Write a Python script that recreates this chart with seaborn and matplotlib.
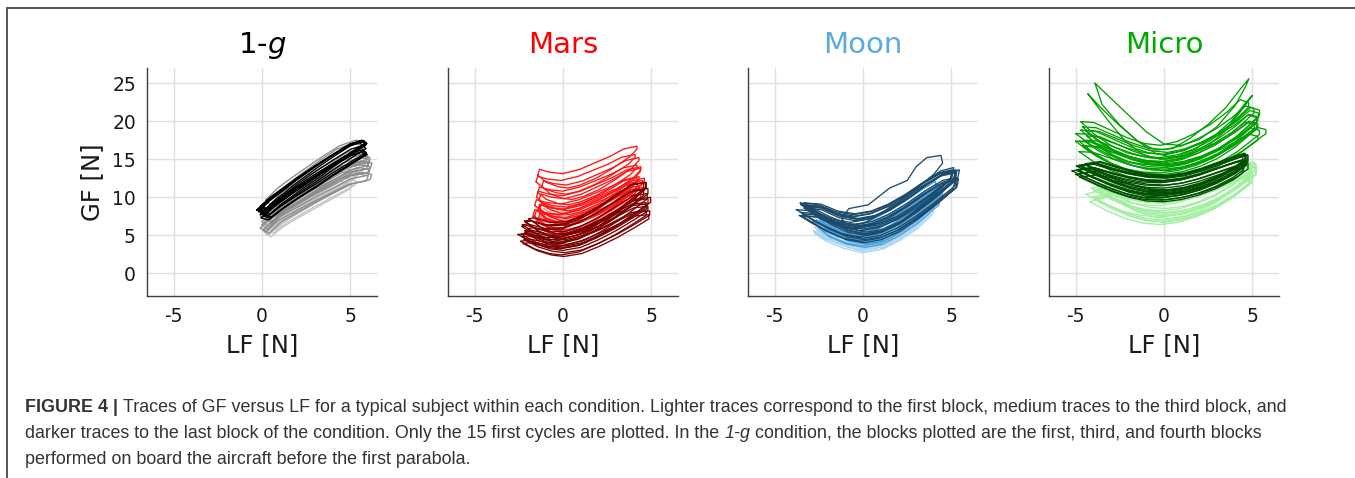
import numpy as np
import pandas as pd
import matplotlib
matplotlib.use("Agg")
import matplotlib.pyplot as plt
import seaborn as sns
from matplotlib.lines import Line2D

# ---------------- data ----------------
CONDITIONS = ["1-g", "Mars", "Moon", "Micro"]
BLOCKS = ["first", "third", "last"]
X_TICKS = [-5, 0, 5]
Y_TICKS = [0, 5, 10, 15, 20, 25]

# --- 1-g ---
ONEG_LIGHT_LF = [0.2, 1.0, 2.0, 3.0, 4.0, 4.8, 5.1, 5.0, 4.2, 3.2, 2.2, 1.2, 0.5, 0.2]
ONEG_LIGHT_GF = [6.0, 7.6, 9.0, 10.3, 11.6, 12.6, 12.4, 11.9, 10.9, 9.6, 8.3, 6.9, 5.6, 6.0]
ONEG_LIGHT_DX = [0.0, 0.2, -0.1, 0.1, 0.3, 0.0, 0.15, -0.05, 0.2, 0.1, 0.0, 0.25]
ONEG_LIGHT_DY = [0.0, 0.5, -0.5, 1.0, 0.2, 1.5, -0.3, 0.8, 1.8, 0.3, -0.8, 1.2]
ONEG_LIGHT_SX = [1.0, 1.0, 0.95, 1.05, 1.0, 0.98, 1.02, 1.0, 1.05, 0.95, 1.0, 1.0]
ONEG_LIGHT_SY = [1.0, 1.05, 1.0, 0.95, 1.1, 1.0, 1.0, 1.05, 1.0, 0.95, 1.0, 1.05]

ONEG_MED_LF = [0.0, 0.8, 1.6, 2.5, 3.5, 4.5, 5.5, 6.1, 6.0, 5.0, 4.0, 3.0, 2.0, 1.0, 0.3, 0.0]
ONEG_MED_GF = [6.8, 8.4, 9.6, 10.9, 12.3, 13.6, 14.3, 14.0, 13.3, 12.8, 11.6, 10.4, 9.1, 7.8, 6.2, 6.8]
ONEG_MED_DX = [0.0, 0.2, -0.1, 0.3, 0.1, -0.2, 0.0, 0.2, -0.1, 0.1, 0.3, 0.0]
ONEG_MED_DY = [0.0, 1.0, -0.8, 0.5, 2.0, 1.5, -0.4, 2.8, 0.8, -1.0, 0.3, 1.2]
ONEG_MED_SX = [1.0, 0.95, 1.0, 0.97, 0.92, 1.0, 1.0, 0.93, 1.0, 1.0, 0.95, 1.0]
ONEG_MED_SY = [1.0, 1.05, 0.95, 1.0, 1.1, 1.0, 1.0, 1.05, 0.95, 1.0, 1.08, 1.0]

ONEG_DARK_LF = [-0.1, 0.5, 1.2, 2.0, 3.0, 4.0, 5.0, 5.7, 5.9, 5.2, 4.0, 3.0, 2.0, 1.0, 0.3, -0.1]
ONEG_DARK_GF = [8.3, 9.6, 10.8, 12.2, 13.8, 15.3, 16.7, 17.2, 16.8, 15.8, 14.0, 12.4, 10.9, 9.3, 8.0, 8.3]
ONEG_DARK_DX = [-0.2, 0.0, 0.1, -0.1, 0.2, 0.0, -0.15, 0.1, 0.25, -0.05, 0.05, 0.15]
ONEG_DARK_DY = [0.0, -0.5, 0.3, -0.2, -0.8, 0.5, 0.1, -0.4, -0.6, 0.2, -1.0, -0.2]
ONEG_DARK_SX = [1.0, 1.0, 0.97, 1.02, 0.95, 1.0, 1.03, 0.98, 0.95, 1.0, 1.0, 0.97]
ONEG_DARK_SY = [1.0, 0.95, 1.0, 1.05, 0.95, 0.97, 1.02, 1.0, 0.93, 1.0, 0.98, 1.03]

# --- Mars ---
MARS_LIGHT_LF = [-1.2, -0.5, 0.2, 1.0, 2.0, 3.0, 3.8, 3.8, 3.0, 2.0, 1.0, 0.0, -0.8, -1.2]
MARS_LIGHT_GF = [6.5, 5.6, 5.3, 5.6, 6.6, 8.0, 9.5, 9.9, 9.0, 7.8, 6.9, 6.5, 6.8, 6.5]
MARS_LIGHT_DX = [0.0, 0.1, -0.1, 0.2, 0.0, 0.1]
MARS_LIGHT_DY = [0.0, 0.5, 1.0, 1.5, 0.3, 2.0]
MARS_LIGHT_SX = [1.0, 1.0, 1.0, 1.0, 1.0, 1.0]
MARS_LIGHT_SY = [1.0, 1.0, 1.05, 0.95, 1.0, 1.0]

MARS_MED_LF = [-1.5, -1.0, -0.3, 0.3, 1.0, 2.0, 3.0, 4.0, 4.4, 4.4, 3.6, 2.8, 2.0, 1.0, 0.0, -0.8, -1.4, -1.5]
MARS_MED_GF = [7.0, 6.0, 5.4, 5.2, 5.6, 6.6, 8.0, 9.6, 10.6, 11.0, 10.6, 9.6, 8.8, 7.8, 7.2, 7.4, 7.8, 7.0]
MARS_MED_DX = [0.0, 0.1, -0.1, 0.0, 0.2, -0.1, 0.1, 0.0, -0.2, 0.1, 0.0, 0.2, -0.1, 0.0]
MARS_MED_DY = [-0.5, 0.0, 0.5, 1.0, 1.5, 2.0, 2.5, 3.0, 0.3, 1.2, 3.8, 4.5, 5.2, 6.0]
MARS_MED_SX = [1.0, 1.0, 1.0, 0.95, 1.0, 1.0, 0.97, 1.0, 1.0, 1.0, 0.95, 0.93, 0.95, 0.95]
MARS_MED_SY = [1.0, 1.05, 1.0, 1.1, 1.0, 0.95, 1.05, 1.0, 1.1, 1.0, 0.9, 0.95, 0.9, 0.95]

MARS_DARK_LF = [-2.3, -1.5, -0.7, 0.0, 1.0, 2.0, 3.0, 4.0, 4.8, 4.8, 4.0, 3.0, 2.0, 1.0, 0.0, -1.0, -2.0, -2.3]
MARS_DARK_GF = [4.8, 3.8, 3.2, 3.0, 3.4, 4.4, 5.6, 7.0, 8.2, 8.8, 8.6, 7.4, 6.2, 5.2, 4.5, 4.4, 4.9, 4.8]
MARS_DARK_DX = [0.0, 0.1, -0.1, 0.2, 0.0, -0.2, 0.1, 0.0, 0.15, -0.1, 0.05, 0.2, -0.05, 0.1]
MARS_DARK_DY = [0.0, 0.4, -0.6, 0.8, 1.2, 0.2, -0.3, 1.6, 0.6, 1.0, -0.8, 2.0, 0.3, 1.4]
MARS_DARK_SX = [1.0, 0.98, 1.0, 0.95, 1.0, 1.02, 1.0, 0.95, 1.0, 0.97, 1.0, 0.93, 1.0, 0.96]
MARS_DARK_SY = [1.0, 1.1, 1.0, 1.15, 1.2, 1.05, 0.95, 1.25, 1.1, 1.2, 0.95, 1.2, 1.0, 1.3]

# --- Moon ---
MOON_LIGHT_LF = [-2.6, -2.0, -1.0, 0.0, 1.0, 2.0, 3.0, 3.8, 3.8, 3.0, 2.0, 1.0, 0.0, -1.0, -2.0, -2.6]
MOON_LIGHT_GF = [5.6, 4.6, 3.6, 3.0, 3.4, 4.6, 6.2, 8.0, 8.8, 7.8, 6.2, 5.0, 4.2, 4.2, 4.8, 5.6]
MOON_LIGHT_DX = [0.0, 0.1, -0.1, 0.2, 0.0, 0.1, -0.2, 0.0, 0.15, 0.05]
MOON_LIGHT_DY = [0.0, 0.3, -0.3, 0.6, 0.2, 0.8, 0.1, 0.4, -0.2, 0.5]
MOON_LIGHT_SX = [1.0, 1.0, 1.02, 0.98, 1.05, 1.0, 1.0, 0.97, 1.0, 1.03]
MOON_LIGHT_SY = [1.0, 1.05, 1.0, 1.0, 1.1, 1.0, 0.95, 1.05, 1.0, 1.0]

MOON_MED_LF = [-2.5, -2.0, -1.0, 0.0, 1.0, 2.0, 3.0, 4.2, 4.2, 3.5, 2.5, 1.5, 0.5, -0.5, -1.5, -2.5]
MOON_MED_GF = [6.0, 5.0, 4.0, 3.6, 4.0, 5.2, 6.8, 9.2, 10.6, 9.6, 8.0, 6.6, 5.4, 4.8, 5.0, 6.0]
MOON_MED_DX = [0.0, 0.1, -0.2, 0.2, 0.0, 0.1, -0.1, 0.3, 0.0, 0.1]
MOON_MED_DY = [0.0, 0.4, 0.8, 0.2, 1.2, 0.6, 1.5, 0.3, 1.0, -0.2]
MOON_MED_SX = [1.0, 1.0, 1.05, 1.0, 1.0, 1.02, 1.0, 1.0, 1.05, 1.0]
MOON_MED_SY = [1.0, 1.05, 1.0, 1.1, 1.0, 1.05, 1.0, 1.1, 1.0, 1.0]

MOON_DARK_LF = [-3.5, -2.8, -2.0, -1.0, 0.0, 1.0, 2.0, 3.0, 4.0, 5.2, 5.3, 4.5, 3.5, 2.5, 1.5, 0.5, -0.5, -1.5, -2.5, -3.5]
MOON_DARK_GF = [8.0, 7.0, 6.0, 5.0, 4.6, 5.0, 6.0, 7.5, 9.2, 11.5, 12.6, 12.2, 10.8, 9.2, 7.8, 6.8, 6.4, 6.8, 7.8, 8.0]
MOON_DARK_DX = [0.0, 0.1, -0.1, 0.2, 0.0, -0.2, 0.1, 0.0, 0.15, -0.1, 0.05, 0.2, -0.05]
MOON_DARK_DY = [0.0, 0.4, -0.4, 0.8, 1.2, 0.2, -0.2, 1.6, 0.6, 1.0, -0.6, 0.5, 1.4]
MOON_DARK_SX = [1.0, 0.98, 1.0, 0.95, 1.0, 1.02, 1.0, 0.95, 1.0, 0.97, 1.0, 0.93, 1.0]
MOON_DARK_SY = [1.0, 1.05, 1.0, 1.0, 0.95, 1.05, 1.0, 0.9, 1.05, 1.0, 1.05, 1.1, 0.95]
MOON_OUTLIER_LF = [-1.2, -0.8, 0.3, 1.5, 2.5, 3.0, 3.6, 4.4, 4.5, 4.0, 3.2, 2.0, 1.0, 0.0, -1.0, -1.2]
MOON_OUTLIER_GF = [7.2, 8.5, 9.0, 11.2, 12.2, 14.0, 15.2, 15.5, 14.5, 13.0, 11.5, 9.5, 7.8, 6.5, 6.4, 7.2]

# --- Micro ---
MICRO_LIGHT_LF = [-4.0, -3.0, -2.0, -1.0, 0.0, 1.0, 2.0, 3.0, 4.0, 5.0, 5.0, 4.0, 3.0, 2.0, 1.0, 0.0, -1.0, -2.0, -3.0, -4.0]
MICRO_LIGHT_GF = [10.0, 8.8, 7.8, 7.2, 7.0, 7.3, 8.0, 9.0, 10.4, 12.2, 13.4, 12.4, 11.4, 10.6, 9.9, 9.5, 9.6, 10.0, 10.6, 10.0]
MICRO_LIGHT_DX = [0.0, 0.2, -0.2, 0.1, 0.3, -0.1, 0.0, 0.2, -0.3, 0.1, 0.0, 0.2]
MICRO_LIGHT_DY = [0.0, 0.5, -0.6, 1.0, 0.2, 1.2, -0.3, 0.7, 0.4, 1.5, -0.2, 0.9]
MICRO_LIGHT_SX = [1.0, 0.95, 1.0, 1.02, 0.9, 1.0, 0.97, 1.0, 1.03, 0.95, 1.0, 0.98]
MICRO_LIGHT_SY = [1.0, 1.05, 1.0, 0.95, 1.1, 1.0, 1.0, 1.05, 1.0, 0.95, 1.0, 1.05]

MICRO_MED_LF = [-4.8, -4.0, -3.0, -2.0, -1.0, 0.0, 1.0, 2.0, 3.0, 4.0, 5.0, 5.3, 5.3, 4.8, 4.0, 3.0, 2.0, 1.0, 0.0, -1.0, -2.0, -3.0, -4.0, -4.8]
MICRO_MED_GF = [16.5, 15.2, 14.0, 13.2, 12.8, 12.7, 13.0, 13.6, 14.5, 15.8, 17.5, 18.0, 18.5, 18.8, 17.5, 16.2, 15.2, 14.4, 14.0, 14.2, 14.8, 15.6, 16.4, 16.5]
MICRO_MED_DX = [0.0, 0.2, -0.2, 0.1, 0.0, -0.1, 0.2, 0.0, 0.1, -0.2, 0.3, 0.2]
MICRO_MED_DY = [-0.5, 0.0, 0.5, 1.0, 0.3, 1.5, 0.8, 2.0, 1.2, 2.5, 0.1, 1.7]
MICRO_MED_SX = [1.0, 0.98, 1.0, 0.97, 1.0, 1.02, 0.95, 0.96, 1.0, 0.94, 1.03, 0.97]
MICRO_MED_SY = [1.0, 1.05, 1.1, 1.0, 1.15, 1.1, 1.2, 1.2, 1.3, 1.25, 1.05, 1.15]
MICRO_OUT1_LF = [-3.9, -3.0, -2.0, -1.0, 0.0, 1.0, 2.0, 3.0, 4.0, 4.6, 4.8, 4.3, 3.5, 2.5, 1.5, 0.5, -0.5, -1.5, -2.5, -3.5, -3.9]
MICRO_OUT1_GF = [25.0, 23.0, 20.8, 18.6, 17.0, 16.8, 17.6, 19.3, 22.0, 24.5, 25.6, 24.2, 21.8, 19.6, 17.8, 16.4, 16.2, 17.4, 19.5, 22.2, 25.0]
MICRO_OUT2_LF = [-4.3, -3.5, -2.5, -1.5, -0.5, 0.5, 1.5, 2.5, 3.5, 4.5, 5.0, 4.6, 3.8, 2.8, 1.8, 0.8, -0.2, -1.2, -2.2, -3.2, -4.3]
MICRO_OUT2_GF = [23.6, 21.6, 19.4, 17.4, 15.8, 15.2, 15.6, 16.8, 18.8, 21.8, 23.4, 22.4, 20.0, 18.0, 16.4, 15.4, 15.0, 15.6, 17.4, 20.2, 23.6]

MICRO_DARK_LF = [-4.9, -4.0, -3.0, -2.0, -1.0, 0.0, 1.0, 2.0, 3.0, 4.0, 4.6, 4.6, 4.0, 3.0, 2.0, 1.0, 0.0, -1.0, -2.0, -3.0, -4.0, -4.9]
MICRO_DARK_GF = [13.6, 12.6, 11.6, 10.8, 10.3, 10.2, 10.5, 11.1, 12.0, 13.2, 14.2, 15.0, 14.6, 13.8, 13.0, 12.4, 12.1, 12.2, 12.6, 13.2, 13.9, 13.6]
MICRO_DARK_DX = [0.0, 0.1, -0.1, 0.2, 0.0, -0.2, 0.1, 0.0, 0.15, -0.1, 0.05, 0.2, -0.05, 0.1]
MICRO_DARK_DY = [0.0, 0.4, -0.6, 0.8, 0.2, -0.3, 0.6, -0.8, 0.3, 0.5, -0.2, 0.7, 0.1, -0.5]
MICRO_DARK_SX = [1.0, 0.98, 1.0, 0.95, 1.0, 1.02, 1.0, 0.97, 1.0, 0.99, 1.0, 0.96, 1.0, 1.01]
MICRO_DARK_SY = [1.0, 1.05, 1.0, 1.0, 0.95, 1.05, 1.0, 0.95, 1.05, 1.0, 1.05, 1.0, 0.95, 1.0]

BLOCK_COLORS = {
    "1-g": ["#c2c2c2", "#8c8c8c", "#000000"],
    "Mars": ["#ff9a9a", "#ff1414", "#7a0000"],
    "Moon": ["#a9d5f2", "#4aa0dc", "#1b4a6b"],
    "Micro": ["#9ff09f", "#00a000", "#005000"],
}
TITLE_COLORS = ["#000000", "#ff0000", "#5aaade", "#00aa00"]
TITLES = [r"1-$g$", "Mars", "Moon", "Micro"]

BASES = {
    "1-g": [(ONEG_LIGHT_LF, ONEG_LIGHT_GF, ONEG_LIGHT_DX, ONEG_LIGHT_DY, ONEG_LIGHT_SX, ONEG_LIGHT_SY),
            (ONEG_MED_LF, ONEG_MED_GF, ONEG_MED_DX, ONEG_MED_DY, ONEG_MED_SX, ONEG_MED_SY),
            (ONEG_DARK_LF, ONEG_DARK_GF, ONEG_DARK_DX, ONEG_DARK_DY, ONEG_DARK_SX, ONEG_DARK_SY)],
    "Mars": [(MARS_LIGHT_LF, MARS_LIGHT_GF, MARS_LIGHT_DX, MARS_LIGHT_DY, MARS_LIGHT_SX, MARS_LIGHT_SY),
             (MARS_MED_LF, MARS_MED_GF, MARS_MED_DX, MARS_MED_DY, MARS_MED_SX, MARS_MED_SY),
             (MARS_DARK_LF, MARS_DARK_GF, MARS_DARK_DX, MARS_DARK_DY, MARS_DARK_SX, MARS_DARK_SY)],
    "Moon": [(MOON_LIGHT_LF, MOON_LIGHT_GF, MOON_LIGHT_DX, MOON_LIGHT_DY, MOON_LIGHT_SX, MOON_LIGHT_SY),
             (MOON_MED_LF, MOON_MED_GF, MOON_MED_DX, MOON_MED_DY, MOON_MED_SX, MOON_MED_SY),
             (MOON_DARK_LF, MOON_DARK_GF, MOON_DARK_DX, MOON_DARK_DY, MOON_DARK_SX, MOON_DARK_SY)],
    "Micro": [(MICRO_LIGHT_LF, MICRO_LIGHT_GF, MICRO_LIGHT_DX, MICRO_LIGHT_DY, MICRO_LIGHT_SX, MICRO_LIGHT_SY),
              (MICRO_MED_LF, MICRO_MED_GF, MICRO_MED_DX, MICRO_MED_DY, MICRO_MED_SX, MICRO_MED_SY),
              (MICRO_DARK_LF, MICRO_DARK_GF, MICRO_DARK_DX, MICRO_DARK_DY, MICRO_DARK_SX, MICRO_DARK_SY)],
}
EXTRA_TRACES = [
    ("Moon", "last", MOON_OUTLIER_LF, MOON_OUTLIER_GF),
    ("Micro", "third", MICRO_OUT1_LF, MICRO_OUT1_GF),
    ("Micro", "third", MICRO_OUT2_LF, MICRO_OUT2_GF),
]

# ------------- build long table -------------
rows = []
tid = 0
for cond in CONDITIONS:
    for block, (lf, gf, dxs, dys, sxs, sys_) in zip(BLOCKS, BASES[cond]):
        lf = np.asarray(lf, float)
        gf = np.asarray(gf, float)
        gmin = gf.min()
        for dx, dy, sx, sy in zip(dxs, dys, sxs, sys_):
            tid += 1
            for i, (a, b) in enumerate(zip(lf * sx + dx, gmin + (gf - gmin) * sy + dy)):
                rows.append((cond, block, tid, i, a, b))
for cond, block, lf, gf in EXTRA_TRACES:
    tid += 1
    for i, (a, b) in enumerate(zip(lf, gf)):
        rows.append((cond, block, tid, i, a, b))
df = pd.DataFrame(rows, columns=["cond", "block", "trace", "i", "LF", "GF"])
df["bi"] = df["block"].map({b: j for j, b in enumerate(BLOCKS)})
df = df.sort_values(["cond", "bi", "trace", "i"], kind="stable")

# ------------- figure -------------
sns.set_style("white")
plt.rcParams["font.family"] = ["DejaVu Sans"]
W, H = 1355, 478
fig = plt.figure(figsize=(W / 100, H / 100), dpi=100)

lefts = [147, 448, 748, 1049]
ax_w, ax_top, ax_bot = 230, 68, 296
for k, cond in enumerate(CONDITIONS):
    ax = fig.add_axes([lefts[k] / W, 1 - ax_bot / H, ax_w / W, (ax_bot - ax_top) / H])
    sub = df[df.cond == cond]
    sns.lineplot(data=sub, x="LF", y="GF", hue="block", hue_order=BLOCKS,
                 palette=BLOCK_COLORS[cond], units="trace", estimator=None,
                 sort=False, lw=0.95, legend=False, ax=ax)
    ax.set_xlim(-6.5, 6.5)
    ax.set_ylim(-3, 27)
    ax.set_xticks(X_TICKS)
    ax.set_yticks(Y_TICKS)
    ax.set_xticklabels([str(v) for v in X_TICKS])
    ax.grid(True, color="#e0e0e0", lw=1.0)
    ax.set_axisbelow(True)
    for s in ["top", "right"]:
        ax.spines[s].set_visible(False)
    for s in ["left", "bottom"]:
        ax.spines[s].set_color("#404040")
        ax.spines[s].set_linewidth(1.0)
    ax.tick_params(direction="in", length=3, width=0.8, color="#404040",
                   labelsize=13.5, labelcolor="#1a1a1a", pad=8)
    ax.set_xlabel("LF [N]", fontsize=17.5, color="#1a1a1a", labelpad=5)
    if k == 0:
        ax.set_ylabel("GF [N]", fontsize=17.5, color="#1a1a1a", labelpad=6)
        ax.set_yticklabels([str(v) for v in Y_TICKS])
    else:
        ax.set_ylabel("")
        ax.set_yticklabels([])
    ax.set_title(TITLES[k], color=TITLE_COLORS[k], fontsize=21, pad=11)

# border lines of the figure box
fig.add_artist(Line2D([7 / W, 1.0], [1 - 8 / H, 1 - 8 / H], color="#555555", lw=1.4))
fig.add_artist(Line2D([7 / W, 7 / W], [0.0, 1 - 8 / H], color="#555555", lw=1.4))

# caption
CAPTION_LINES = [
    [("FIGURE 4 | ", "bold"), ("Traces of GF versus LF for a typical subject within each condition. Lighter traces correspond to the first block, medium traces to the third block, and", "normal")],
    [("darker traces to the last block of the condition. Only the 15 first cycles are plotted. In the ", "normal"), ("1-g", "italic"), (" condition, the blocks plotted are the first, third, and fourth blocks", "normal")],
    [("performed on board the aircraft before the first parabola.", "normal")],
]
cap_family = ["Liberation Sans Narrow", "Liberation Sans", "DejaVu Sans"]
renderer = fig.canvas.get_renderer()


def draw_caption(size):
    arts = []
    widths = []
    for li, (segs, yc) in enumerate(zip(CAPTION_LINES, [408, 434, 460])):
        x = 25 / W
        for txt, sty in segs:
            kw = dict(fontsize=size, color="#333333", va="center", ha="left", family=cap_family)
            if sty == "bold":
                kw["fontweight"] = "bold"
            if sty == "italic":
                kw["fontstyle"] = "italic"
            t = fig.text(x, 1 - yc / H, txt, **kw)
            arts.append(t)
            bb = t.get_window_extent(renderer)
            x += bb.width / W
        widths.append(x * W - 25)
    return arts, widths


arts, widths = draw_caption(12)
scale = (1290 - 25) / widths[0]
for a in arts:
    a.remove()
arts, widths = draw_caption(12 * scale)

fig.savefig("out.png", dpi=100)
